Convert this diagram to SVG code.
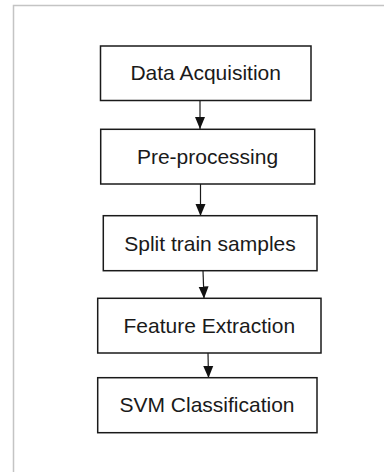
<svg xmlns="http://www.w3.org/2000/svg" width="384" height="472" viewBox="0 0 384 472">
<style>
.box{fill:#fff;stroke:#1a1a1a;stroke-width:1.5}
.lbl{font-family:"Liberation Sans",Arial,sans-serif;font-size:21px;fill:#1a1a1a;text-anchor:middle}
.edge{stroke:#1a1a1a;stroke-width:1.2;fill:none;marker-end:url(#ah)}
.frame{fill:none;stroke:#c4c4c4;stroke-width:1.5}
</style>
<defs>
<marker id="ah" markerUnits="userSpaceOnUse" markerWidth="12" markerHeight="14" refX="12" refY="5" orient="auto" viewBox="0 0 12 10">
<path d="M0,0 L12,5 L0,10 Z" fill="#111"/>
</marker>
</defs>
<rect width="384" height="472" fill="#fff"/>
<path class="frame" d="M13.5,472 L13.5,5.5 L384,5.5"/>
<g id="connectors">
<path class="edge" d="M200,100.5 L200,129"/>
<path class="edge" d="M200.5,184 L200.5,216"/>
<path class="edge" d="M203,270.7 L204,298.5"/>
<path class="edge" d="M208,353 L208.5,378"/>
</g>
<g id="n1"><rect class="box" x="100.5" y="46" width="210.5" height="54.5"/><text class="lbl" x="205.7" y="80">Data Acquisition</text></g>
<g id="n2"><rect class="box" x="100.7" y="129.3" width="214" height="54.7"/><text class="lbl" x="207.5" y="164">Pre-processing</text></g>
<g id="n3"><rect class="box" x="103.3" y="215.7" width="213.7" height="55"/><text class="lbl" x="210" y="250.5">Split train samples</text></g>
<g id="n4"><rect class="box" x="97.7" y="298.3" width="223.3" height="54.7"/><text class="lbl" x="209.3" y="332.5">Feature Extraction</text></g>
<g id="n5"><rect class="box" x="97.7" y="377.7" width="219.3" height="55"/><text class="lbl" x="207" y="411.5">SVM Classification</text></g>
</svg>
